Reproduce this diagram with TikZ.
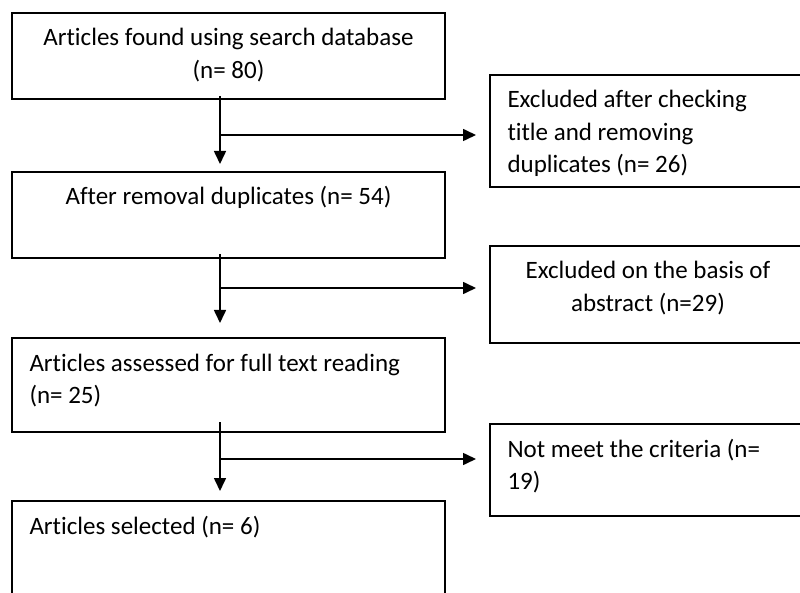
\documentclass[tikz,border=0pt]{standalone}
\usepackage{fontspec}
\setmainfont{Carlito}[RawFeature={-liga}]
\usetikzlibrary{arrows.meta,calc}
\newcommand{\boxtxt}[4]{\parbox[c][#2][t]{#1}{#3\rule{0pt}{33pt}#4}}
\begin{document}
\begin{tikzpicture}[x=1pt,y=-1pt,
  box/.style={draw, line width=1.6pt, anchor=north west, inner xsep=17.5pt, inner ysep=0pt, outer sep=0pt, font=\fontsize{25}{32.5}\selectfont},
  arr/.style={line width=1.6pt, -{Triangle[width=12pt,length=13pt]}},
  plain/.style={line width=1.6pt}]
\useasboundingbox (0,0) rectangle (800,593);
\clip (0,0) rectangle (800,593);
\fill[white] (0,0) rectangle (800,593);

\node[box] (b1) at (12,13) {\boxtxt{398pt}{86pt}{\centering}{Articles found using search database\\(n= 80)}};
\node[box] (b2) at (490,75) {\boxtxt{281pt}{112pt}{\raggedright}{Excluded after checking\\title and removing\\duplicates (n= 26)}};
\node[box] (b3) at (12,172) {\boxtxt{398pt}{86pt}{\centering}{After removal duplicates (n= 54)}};
\node[box] (b4) at (490,246) {\boxtxt{281pt}{97pt}{\centering}{Excluded on the basis of\\abstract (n=29)}};
\node[box] (b5) at (12,338) {\boxtxt{398pt}{94pt}{\raggedright}{Articles assessed for full text reading\\(n= 25)}};
\node[box] (b6) at (490,424) {\boxtxt{281pt}{92pt}{\raggedright}{Not meet the criteria (n=\\19)}};
\node[box] (b7) at (12,501) {\boxtxt{398pt}{100pt}{\raggedright}{Articles selected (n= 6)}};

\coordinate (j1) at (220,135);
\coordinate (j2) at (220,288);
\coordinate (j3) at (220,459);

\draw[arr] ($(b1.south -| j1)+(0,-3)$) -- ($(b3.north -| j1)+(0,-8)$);
\draw[arr] (j1) -- ($(j1 -| b2.west)+(-14,0)$);

\draw[arr] ($(b3.south -| j2)+(0,-4)$) -- ($(b5.north -| j2)+(0,-15)$);
\draw[arr] (j2) -- ($(j2 -| b4.west)+(-14,0)$);

\draw[arr] ($(b5.south -| j3)+(0,-10)$) -- ($(b7.north -| j3)+(0,-10)$);
\draw[arr] (j3) -- ($(j3 -| b6.west)+(-14,0)$);
\end{tikzpicture}
\end{document}
